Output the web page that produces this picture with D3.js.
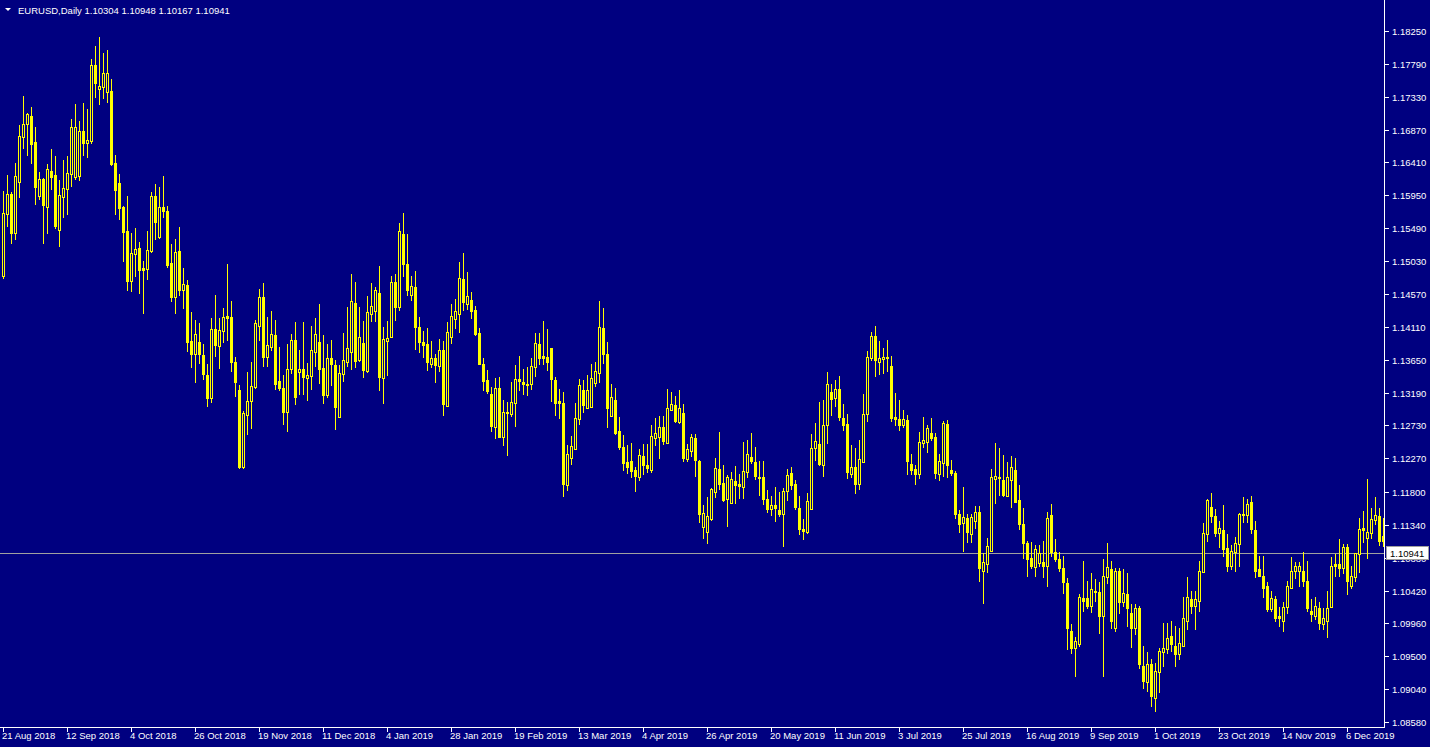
<!DOCTYPE html>
<html><head><meta charset="utf-8">
<script src="https://cdn.jsdelivr.net/npm/d3@7"></script>
<style>
html,body{margin:0;padding:0;background:#000080;overflow:hidden}
svg{display:block}
text{font-family:"Liberation Sans",Arial,sans-serif;font-size:9.5px;fill:#ffffff}
</style></head><body>
<svg id="chart" width="1430" height="747"></svg>
<script>
const symbolTitle = "EURUSD,Daily";
const lastQuote = ["1.10304", "1.10948", "1.10167", "1.10941"];
const bidPrice = 1.10941;
const priceTicks = [1.18250,1.17790,1.17330,1.16870,1.16410,1.15950,1.15490,1.15030,1.14570,1.14110,1.13650,1.13190,1.12730,1.12270,1.11800,1.11340,1.10880,1.10420,1.09960,1.09500,1.09040,1.08580];
const dateTickLabels = ["21 Aug 2018","12 Sep 2018","4 Oct 2018","26 Oct 2018","19 Nov 2018","11 Dec 2018","4 Jan 2019","28 Jan 2019","19 Feb 2019","13 Mar 2019","4 Apr 2019","26 Apr 2019","20 May 2019","11 Jun 2019","3 Jul 2019","25 Jul 2019","16 Aug 2019","9 Sep 2019","1 Oct 2019","23 Oct 2019","14 Nov 2019","6 Dec 2019"];
const barsPerDateLabel = 16;

const openPrices = [
1.1482,1.1569,1.1597,1.1542,1.1614,1.1677,1.1695,1.1706,1.1670,1.1594,
1.1618,1.1579,1.1629,1.1623,1.1546,1.1593,1.1604,1.1625,1.1621,1.1622,
1.1685,1.1668,1.1671,1.1777,1.1744,1.1747,1.1740,1.1741,1.1640,1.1612,
1.1579,1.1545,1.1475,1.1513,1.1521,1.1493,1.1492,1.1517,1.1594,1.1537,
1.1579,1.1573,1.1500,1.1453,1.1517,1.1462,1.1469,1.1391,1.1373,1.1390,
1.1371,1.1343,1.1311,1.1408,1.1384,1.1405,1.1426,1.1425,1.1362,1.1322,
1.1215,1.1287,1.1307,1.1327,1.1412,1.1453,1.1369,1.1383,1.1399,1.1335,
1.1325,1.1292,1.1352,1.1392,1.1348,1.1352,1.1339,1.1342,1.1376,1.1390,
1.1353,1.1315,1.1367,1.1357,1.1285,1.1345,1.1362,1.1376,1.1444,1.1364,
1.1388,1.1349,1.1429,1.1433,1.1458,1.1339,1.1391,1.1397,1.1474,1.1439,
1.1541,1.1499,1.1455,1.1467,1.1411,1.1390,1.1387,1.1359,1.1367,1.1356,
1.1378,1.1300,1.1397,1.1422,1.1429,1.1478,1.1443,1.1448,1.1434,1.1402,
1.1359,1.1336,1.1317,1.1271,1.1325,1.1257,1.1290,1.1289,1.1304,1.1338,
1.1334,1.1331,1.1331,1.1355,1.1387,1.1370,1.1369,1.1381,1.1336,1.1307,
1.1304,1.1189,1.1227,1.1240,1.1282,1.1322,1.1297,1.1299,1.1332,1.1346,
1.1409,1.1373,1.1286,1.1308,1.1265,1.1243,1.1222,1.1223,1.1210,1.1201,
1.1230,1.1217,1.1210,1.1255,1.1257,1.1271,1.1248,1.1294,1.1301,1.1278,
1.1290,1.1226,1.1237,1.1255,1.1223,1.1131,1.1124,1.1142,1.1180,1.1212,
1.1192,1.1170,1.1164,1.1195,1.1191,1.1187,1.1208,1.1229,1.1222,1.1201,
1.1201,1.1170,1.1156,1.1161,1.1154,1.1149,1.1181,1.1206,1.1191,1.1157,
1.1128,1.1124,1.1156,1.1241,1.1247,1.1217,1.1273,1.1320,1.1311,1.1324,
1.1283,1.1275,1.1205,1.1215,1.1191,1.1222,1.1289,1.1367,1.1398,1.1362,
1.1366,1.1369,1.1356,1.1285,1.1282,1.1273,1.1280,1.1219,1.1212,1.1205,
1.1248,1.1250,1.1262,1.1257,1.1205,1.1220,1.1275,1.1210,1.1206,1.1149,
1.1136,1.1143,1.1121,1.1139,1.1152,1.1070,1.1079,1.1098,1.1198,1.1201,
1.1196,1.1174,1.1196,1.1210,1.1168,1.1135,1.1108,1.1087,1.1075,1.1080,
1.1082,1.1076,1.1147,1.1096,1.1086,1.1073,1.1052,1.0985,1.0961,1.0967,
1.1031,1.1031,1.1020,1.1042,1.1040,1.1006,1.1061,1.1072,1.0989,1.1069,
1.1026,1.1037,1.1010,1.0989,1.1017,1.0937,1.0914,1.0939,1.0891,1.0928,
1.0956,1.0960,1.0978,1.0965,1.0953,1.0965,1.1000,1.1030,1.1021,1.1028,
1.1068,1.1121,1.1159,1.1146,1.1122,1.1126,1.1101,1.1077,1.1096,1.1107,
1.1147,1.1147,1.1166,1.1126,1.1072,1.1063,1.1048,1.1016,1.1030,1.1006,
1.0999,1.1019,1.1045,1.1069,1.1069,1.1070,1.1056,1.1014,1.1007,1.1017,
1.0995,1.1000,1.1019,1.1079,1.1079,1.1073,1.1103,1.1049,1.1061,1.1093,
1.1129,1.1115,1.1122,1.1140,1.1146,1.1118];

const highPrices = [
1.1601,1.1623,1.1600,1.1640,1.1693,1.1734,1.1710,1.1719,1.1691,1.1628,
1.1619,1.1639,1.1660,1.1650,1.1616,1.1644,1.1650,1.1702,1.1723,1.1699,
1.1724,1.1716,1.1786,1.1804,1.1817,1.1794,1.1798,1.1758,1.1651,1.1625,
1.1580,1.1594,1.1542,1.1549,1.1530,1.1503,1.1545,1.1600,1.1611,1.1607,
1.1622,1.1580,1.1527,1.1534,1.1551,1.1493,1.1476,1.1432,1.1420,1.1416,
1.1387,1.1359,1.1423,1.1455,1.1423,1.1437,1.1499,1.1447,1.1369,1.1329,
1.1293,1.1348,1.1362,1.1420,1.1464,1.1472,1.1425,1.1433,1.1420,1.1383,
1.1343,1.1387,1.1401,1.1418,1.1378,1.1418,1.1360,1.1412,1.1423,1.1443,
1.1399,1.1387,1.1392,1.1364,1.1357,1.1402,1.1439,1.1485,1.1474,1.1439,
1.1419,1.1454,1.1472,1.1467,1.1496,1.1411,1.1419,1.1482,1.1485,1.1556,
1.1570,1.1541,1.1482,1.1489,1.1425,1.1405,1.1409,1.1391,1.1373,1.1394,
1.1391,1.1418,1.1443,1.1450,1.1502,1.1514,1.1488,1.1460,1.1440,1.1409,
1.1367,1.1350,1.1327,1.1339,1.1341,1.1308,1.1306,1.1334,1.1357,1.1370,
1.1352,1.1355,1.1367,1.1402,1.1402,1.1419,1.1408,1.1381,1.1341,1.1324,
1.1320,1.1245,1.1258,1.1304,1.1338,1.1336,1.1343,1.1359,1.1362,1.1447,
1.1437,1.1390,1.1331,1.1325,1.1285,1.1259,1.1245,1.1248,1.1215,1.1240,
1.1247,1.1247,1.1273,1.1283,1.1286,1.1286,1.1324,1.1320,1.1314,1.1322,
1.1303,1.1247,1.1261,1.1261,1.1224,1.1161,1.1173,1.1185,1.1228,1.1264,
1.1217,1.1203,1.1208,1.1216,1.1205,1.1250,1.1252,1.1262,1.1243,1.1223,
1.1223,1.1182,1.1174,1.1187,1.1180,1.1185,1.1212,1.1215,1.1196,1.1174,
1.1142,1.1178,1.1261,1.1276,1.1306,1.1308,1.1348,1.1331,1.1336,1.1342,
1.1303,1.1289,1.1245,1.1241,1.1252,1.1317,1.1377,1.1404,1.1412,1.1391,
1.1381,1.1392,1.1370,1.1318,1.1308,1.1294,1.1287,1.1233,1.1217,1.1264,
1.1285,1.1273,1.1283,1.1262,1.1233,1.1279,1.1280,1.1224,1.1209,1.1154,
1.1187,1.1149,1.1149,1.1160,1.1160,1.1094,1.1115,1.1212,1.1248,1.1241,
1.1231,1.1222,1.1230,1.1227,1.1189,1.1157,1.1111,1.1110,1.1105,1.1105,
1.1111,1.1152,1.1163,1.1114,1.1096,1.1090,1.1059,1.0995,1.0977,1.1037,
1.1083,1.1055,1.1066,1.1058,1.1054,1.1086,1.1108,1.1084,1.1073,1.1073,
1.1072,1.1066,1.1023,1.1023,1.1021,1.0965,1.0956,1.0946,1.0940,1.0961,
1.0996,1.0996,1.0999,1.0993,1.0989,1.1033,1.1061,1.1041,1.1042,1.1084,
1.1136,1.1170,1.1178,1.1156,1.1139,1.1161,1.1121,1.1105,1.1117,1.1150,
1.1173,1.1170,1.1174,1.1139,1.1091,1.1090,1.1054,1.1041,1.1034,1.1019,
1.1026,1.1055,1.1089,1.1082,1.1082,1.1096,1.1084,1.1030,1.1033,1.1026,
1.1017,1.1042,1.1089,1.1093,1.1114,1.1107,1.1107,1.1076,1.1094,1.1143,
1.1153,1.1198,1.1157,1.1173,1.1157,1.1143];

const lowPrices = [
1.1479,1.1552,1.1528,1.1534,1.1593,1.1661,1.1651,1.1640,1.1583,1.1590,
1.1528,1.1542,1.1604,1.1549,1.1524,1.1565,1.1569,1.1608,1.1618,1.1616,
1.1651,1.1649,1.1668,1.1733,1.1723,1.1731,1.1726,1.1637,1.1569,1.1562,
1.1503,1.1462,1.1461,1.1482,1.1458,1.1430,1.1478,1.1516,1.1534,1.1535,
1.1565,1.1495,1.1447,1.1430,1.1455,1.1437,1.1377,1.1355,1.1334,1.1360,
1.1338,1.1300,1.1306,1.1370,1.1353,1.1390,1.1392,1.1349,1.1314,1.1213,
1.1213,1.1261,1.1269,1.1325,1.1392,1.1356,1.1356,1.1378,1.1324,1.1322,
1.1275,1.1265,1.1346,1.1303,1.1317,1.1317,1.1308,1.1324,1.1356,1.1332,
1.1304,1.1313,1.1329,1.1268,1.1285,1.1335,1.1356,1.1352,1.1355,1.1363,
1.1341,1.1348,1.1419,1.1419,1.1322,1.1304,1.1343,1.1397,1.1420,1.1434,
1.1482,1.1455,1.1448,1.1380,1.1376,1.1369,1.1350,1.1355,1.1334,1.1349,
1.1287,1.1300,1.1388,1.1409,1.1404,1.1434,1.1436,1.1423,1.1399,1.1359,
1.1322,1.1318,1.1265,1.1255,1.1257,1.1245,1.1231,1.1286,1.1272,1.1322,
1.1317,1.1315,1.1324,1.1342,1.1359,1.1359,1.1350,1.1307,1.1287,1.1283,
1.1174,1.1182,1.1219,1.1240,1.1275,1.1292,1.1297,1.1299,1.1328,1.1334,
1.1360,1.1271,1.1286,1.1261,1.1240,1.1210,1.1206,1.1201,1.1181,1.1196,
1.1205,1.1208,1.1208,1.1245,1.1227,1.1247,1.1248,1.1294,1.1278,1.1276,
1.1223,1.1223,1.1230,1.1202,1.1138,1.1115,1.1108,1.1140,1.1173,1.1184,
1.1167,1.1132,1.1164,1.1164,1.1171,1.1171,1.1201,1.1220,1.1198,1.1175,
1.1163,1.1152,1.1147,1.1139,1.1146,1.1104,1.1168,1.1184,1.1156,1.1121,
1.1114,1.1122,1.1156,1.1224,1.1217,1.1202,1.1248,1.1287,1.1300,1.1280,
1.1266,1.1199,1.1201,1.1178,1.1184,1.1222,1.1279,1.1364,1.1342,1.1345,
1.1346,1.1349,1.1279,1.1273,1.1266,1.1271,1.1205,1.1205,1.1191,1.1199,
1.1243,1.1236,1.1252,1.1199,1.1196,1.1202,1.1201,1.1203,1.1143,1.1124,
1.1098,1.1110,1.1110,1.1129,1.1056,1.1024,1.1068,1.1098,1.1164,1.1176,
1.1174,1.1174,1.1159,1.1166,1.1128,1.1087,1.1063,1.1073,1.1062,1.1076,
1.1061,1.1048,1.1091,1.1083,1.1070,1.1038,1.0960,1.0954,1.0923,1.0965,
1.1013,1.1017,1.1012,1.1027,1.0982,1.0923,1.1052,1.0989,1.0986,1.1010,
1.1020,1.0993,1.0963,1.0981,1.0933,1.0905,1.0901,1.0881,1.0874,1.0900,
1.0936,1.0954,1.0958,1.0937,1.0946,1.0965,1.0988,1.1010,1.0988,1.1013,
1.1068,1.1111,1.1138,1.1118,1.1103,1.1090,1.1070,1.1072,1.1070,1.1076,
1.1138,1.1138,1.1122,1.1061,1.1062,1.1033,1.1013,1.1013,1.0999,1.0993,
1.0985,1.1010,1.1045,1.1059,1.1049,1.1049,1.1013,1.1000,1.1002,1.0988,
1.0988,1.0977,1.1019,1.1063,1.1063,1.1066,1.1037,1.1045,1.1055,1.1068,
1.1110,1.1087,1.1115,1.1135,1.1105,1.1104];

const closePrices = [
1.1570,1.1597,1.1542,1.1622,1.1678,1.1695,1.1709,1.1667,1.1607,1.1618,
1.1581,1.1632,1.1621,1.1552,1.1595,1.1605,1.1626,1.1691,1.1691,1.1685,
1.1668,1.1672,1.1777,1.1752,1.1748,1.1766,1.1766,1.1639,1.1602,1.1577,
1.1544,1.1475,1.1514,1.1520,1.1490,1.1490,1.1518,1.1594,1.1558,1.1579,
1.1573,1.1497,1.1453,1.1516,1.1462,1.1471,1.1390,1.1373,1.1401,1.1373,
1.1345,1.1311,1.1408,1.1385,1.1406,1.1425,1.1423,1.1362,1.1334,1.1215,
1.1290,1.1307,1.1328,1.1416,1.1453,1.1369,1.1385,1.1401,1.1331,1.1325,
1.1292,1.1352,1.1392,1.1313,1.1352,1.1341,1.1343,1.1378,1.1401,1.1352,
1.1315,1.1367,1.1359,1.1299,1.1346,1.1364,1.1381,1.1447,1.1363,1.1397,
1.1350,1.1432,1.1440,1.1462,1.1341,1.1394,1.1395,1.1474,1.1439,1.1545,
1.1499,1.1462,1.1468,1.1411,1.1390,1.1385,1.1362,1.1367,1.1357,1.1378,
1.1303,1.1404,1.1426,1.1433,1.1479,1.1446,1.1454,1.1433,1.1401,1.1359,
1.1335,1.1321,1.1272,1.1325,1.1257,1.1292,1.1292,1.1306,1.1338,1.1335,
1.1331,1.1329,1.1356,1.1388,1.1367,1.1367,1.1362,1.1338,1.1304,1.1304,
1.1191,1.1233,1.1244,1.1283,1.1329,1.1301,1.1322,1.1339,1.1349,1.1411,
1.1373,1.1297,1.1313,1.1262,1.1243,1.1220,1.1215,1.1209,1.1202,1.1231,
1.1217,1.1213,1.1258,1.1262,1.1271,1.1251,1.1297,1.1303,1.1279,1.1297,
1.1227,1.1240,1.1257,1.1224,1.1149,1.1150,1.1146,1.1184,1.1213,1.1191,
1.1168,1.1201,1.1198,1.1189,1.1188,1.1209,1.1233,1.1223,1.1202,1.1199,
1.1170,1.1156,1.1161,1.1157,1.1149,1.1181,1.1203,1.1189,1.1159,1.1128,
1.1125,1.1167,1.1241,1.1251,1.1219,1.1273,1.1331,1.1310,1.1324,1.1285,
1.1273,1.1208,1.1215,1.1191,1.1226,1.1289,1.1369,1.1398,1.1364,1.1367,
1.1369,1.1367,1.1283,1.1282,1.1273,1.1282,1.1223,1.1210,1.1205,1.1250,
1.1252,1.1269,1.1255,1.1206,1.1223,1.1276,1.1217,1.1206,1.1149,1.1135,
1.1145,1.1124,1.1145,1.1152,1.1073,1.1082,1.1104,1.1201,1.1202,1.1199,
1.1176,1.1201,1.1215,1.1166,1.1135,1.1108,1.1086,1.1076,1.1100,1.1094,
1.1077,1.1143,1.1096,1.1086,1.1073,1.1054,1.0990,1.0961,1.0971,1.1033,
1.1028,1.1021,1.1044,1.1040,1.1006,1.1062,1.1075,1.0999,1.1069,1.1026,
1.1038,1.1017,1.0989,1.1017,1.0939,1.0915,1.0939,1.0895,1.0930,1.0957,
1.0961,1.0975,1.0967,1.0953,1.0968,1.1003,1.1033,1.1021,1.1030,1.1069,
1.1122,1.1168,1.1146,1.1122,1.1129,1.1100,1.1076,1.1098,1.1108,1.1149,
1.1149,1.1163,1.1128,1.1070,1.1063,1.1045,1.1016,1.1031,1.1004,1.1003,
1.1019,1.1049,1.1070,1.1076,1.1076,1.1055,1.1017,1.1009,1.1021,1.0996,
1.1003,1.1017,1.1077,1.1076,1.1073,1.1103,1.1056,1.1062,1.1094,1.1128,
1.1126,1.1124,1.1142,1.1147,1.1111,1.1111];

// ---------- layout ----------
const W = 1430, H = 747;
const plotRight = 1384, plotBottom = 727;
const BG = "#000080", CANDLE = "#ffff00", FG = "#ffffff", BIDLINE = "#a0a0a0";

const svg = d3.select("#chart");
svg.append("rect").attr("width", W).attr("height", H).attr("fill", BG);

const n = openPrices.length;
const x = d3.scaleLinear().domain([0, n - 1]).range([3, 3 + 4 * (n - 1)]);
const y = d3.scaleLinear().domain([1.08580, 1.18250]).range([722, 31]);
const py = v => Math.round(y(v));

const bars = d3.range(n).map(i => ({
  i, o: openPrices[i], h: highPrices[i], l: lowPrices[i], c: closePrices[i]
}));

// bid line (behind candles)
svg.append("line")
  .attr("x1", 0).attr("x2", plotRight)
  .attr("y1", py(bidPrice) + 0.5).attr("y2", py(bidPrice) + 0.5)
  .attr("stroke", BIDLINE).attr("stroke-width", 1).attr("shape-rendering", "crispEdges");

const g = svg.append("g").attr("shape-rendering", "crispEdges");
// wicks
g.selectAll("rect.wick").data(bars).join("rect").attr("class", "wick")
  .attr("x", d => Math.round(x(d.i)))
  .attr("y", d => py(d.h))
  .attr("width", 1)
  .attr("height", d => py(d.l) - py(d.h) + 1)
  .attr("fill", CANDLE);
// bodies
bars.forEach(d => {
  const cx = Math.round(x(d.i));
  const yo = py(d.o), yc = py(d.c);
  if (d.c >= d.o) {
    const top = yc, bot = yo;
    if (bot - top < 2) {
      g.append("rect").attr("x", cx - 1).attr("y", top).attr("width", 3)
        .attr("height", bot - top + 1).attr("fill", CANDLE);
    } else {
      g.append("rect").attr("x", cx - 0.5).attr("y", top + 0.5).attr("width", 2)
        .attr("height", bot - top).attr("fill", BG).attr("stroke", CANDLE).attr("stroke-width", 1);
    }
  } else {
    g.append("rect").attr("x", cx - 1).attr("y", yo).attr("width", 3)
      .attr("height", Math.max(1, yc - yo + 1)).attr("fill", CANDLE);
  }
});

// ---------- axes ----------
svg.append("line").attr("x1", plotRight + 0.5).attr("x2", plotRight + 0.5)
  .attr("y1", 0).attr("y2", plotBottom + 1).attr("stroke", FG).attr("shape-rendering", "crispEdges");
svg.append("line").attr("x1", 0).attr("x2", plotRight + 1)
  .attr("y1", plotBottom + 0.5).attr("y2", plotBottom + 0.5).attr("stroke", FG).attr("shape-rendering", "crispEdges");

const yAxis = svg.append("g");
priceTicks.forEach(v => {
  const yy = py(v);
  yAxis.append("line").attr("x1", plotRight + 1).attr("x2", plotRight + 5)
    .attr("y1", yy + 0.5).attr("y2", yy + 0.5).attr("stroke", FG).attr("shape-rendering", "crispEdges");
  yAxis.append("text").attr("x", plotRight + 8).attr("y", yy + 3.5).text(v.toFixed(5));
});

const xAxis = svg.append("g");
dateTickLabels.forEach((lab, k) => {
  const xx = Math.round(x(k * barsPerDateLabel));
  xAxis.append("line").attr("x1", xx + 0.5).attr("x2", xx + 0.5)
    .attr("y1", plotBottom + 1).attr("y2", plotBottom + 5).attr("stroke", FG).attr("shape-rendering", "crispEdges");
  xAxis.append("text").attr("x", xx - 1).attr("y", 739).text(lab);
});

// bid price label (drawn over the axis label it covers, as in the terminal)
const by = py(bidPrice);
svg.append("rect").attr("x", plotRight + 2.5).attr("y", by - 6.5).attr("width", 42).attr("height", 13)
  .attr("fill", "#ffffff").attr("stroke", BIDLINE).attr("shape-rendering", "crispEdges");
svg.append("text").attr("x", plotRight + 6).attr("y", by + 3.5).style("fill", "#000000").text(bidPrice.toFixed(5));

// title
svg.append("path").attr("d", d3.line()([[5, 8], [11, 8], [8, 11]]) + "Z").attr("fill", FG);
svg.append("text").attr("x", 18).attr("y", 14).text(symbolTitle + "  " + lastQuote.join(" "));
</script>
</body></html>
